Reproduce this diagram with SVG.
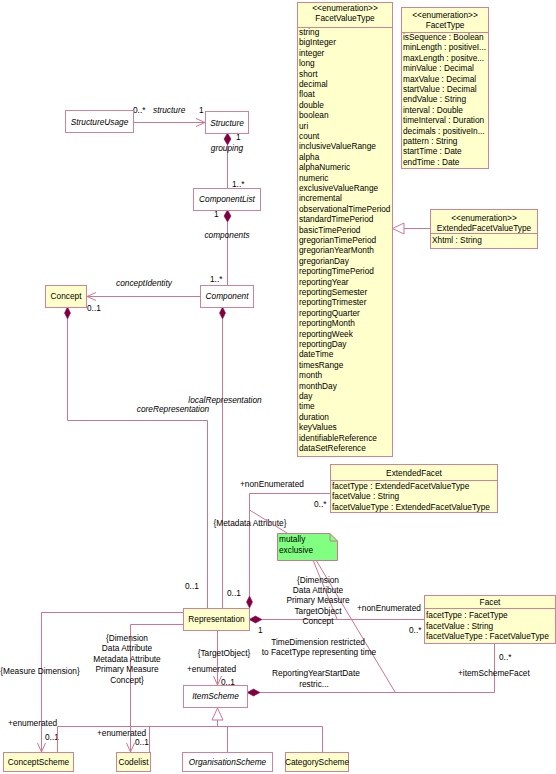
<svg xmlns="http://www.w3.org/2000/svg" width="556" height="774" viewBox="0 0 556 774">
<style>
text{font-family:"Liberation Sans",Arial,sans-serif;font-size:8.3px;fill:#000}
.i{font-style:italic}
.m{text-anchor:middle}
.box{stroke:#d08398;stroke-width:1}
.y{fill:#ffffcc}
.w{fill:#ffffff}
.ln{stroke:#cc7690;stroke-width:1;fill:none}
.dia{fill:#800040;stroke:#800040;stroke-width:0.5}
.tri{fill:#ffffff;stroke:#cc7690;stroke-width:1}
.note{fill:#80ff80;stroke:#cc7690;stroke-width:1}
</style>
<defs>
<marker id="open" markerUnits="userSpaceOnUse" markerWidth="12" markerHeight="12" refX="10" refY="5" orient="auto">
<path d="M1,1 L10,5 L1,9" fill="none" stroke="#cc7690" stroke-width="1"/>
</marker>
</defs>
<rect width="556" height="774" fill="#ffffff"/>

<g id="connectors">
<line class="ln" x1="133" y1="122.5" x2="205" y2="122.5" marker-end="url(#open)"/>
<text x="133" y="113">0..*</text>
<text class="i" x="153" y="113">structure</text>
<text x="199" y="113">1</text>
<polygon class="dia" points="227.5,133 231,139 227.5,145 224,139"/>
<line class="ln" x1="227.5" y1="145" x2="227.5" y2="188"/>
<text x="236" y="140">1</text>
<text class="i m" x="227" y="151">grouping</text>
<text x="232" y="187">1..*</text>
<polygon class="dia" points="227.5,210 231,216 227.5,222 224,216"/>
<line class="ln" x1="227.5" y1="222" x2="227.5" y2="285"/>
<text x="214" y="217">1</text>
<text class="i m" x="227" y="238">components</text>
<text x="210" y="282">1..*</text>
<line class="ln" x1="200" y1="296.5" x2="87" y2="296.5" marker-end="url(#open)"/>
<text class="i m" x="144" y="286">conceptIdentity</text>
<text x="87" y="311">0..1</text>
<polygon class="dia" points="67.5,307 70.5,313 67.5,319 64.5,313"/>
<polyline class="ln" points="67.5,319 67.5,420.5 207.5,420.5 207.5,608"/>
<text class="i m" x="173" y="411.5">coreRepresentation</text>
<polygon class="dia" points="222.5,307 225.5,313 222.5,319 219.5,313"/>
<line class="ln" x1="222.5" y1="319" x2="222.5" y2="608"/>
<text class="i m" x="225" y="403">localRepresentation</text>
<text x="185" y="589">0..1</text>
<polygon class="dia" points="249.5,596 252.5,602 249.5,608 246.5,602"/>
<polyline class="ln" points="249.5,596 249.5,493.5 330,493.5"/>
<text x="240" y="487">+nonEnumerated</text>
<text x="314" y="507">0..*</text>
<text class="m" x="250" y="526">{Metadata Attribute}</text>
<text x="227" y="596">0..1</text>
<line class="ln" x1="249.5" y1="510" x2="287" y2="533"/>
<line class="ln" x1="313" y1="560" x2="337" y2="619"/>
<line class="ln" x1="316" y1="560" x2="395" y2="692"/>
<polygon class="dia" points="249,619.5 255.5,616 262,619.5 255.5,623"/>
<line class="ln" x1="262" y1="619.5" x2="424" y2="619.5"/>
<text x="357" y="611">+nonEnumerated</text>
<text x="409" y="633">0..*</text>
<text x="258" y="633">1</text>
<text class="m" x="318" y="583">{Dimension</text>
<text class="m" x="318" y="593">Data Attribute</text>
<text class="m" x="318" y="603">Primary Measure</text>
<text class="m" x="318" y="614">TargetObject</text>
<text class="m" x="318" y="624">Concept</text>
<text class="m" x="318" y="645">TimeDimension restricted</text>
<text class="m" x="319" y="655">to FacetType representing time</text>
<text class="m" x="316" y="676">ReportingYearStartDate</text>
<text class="m" x="314" y="687">restric...</text>
<line class="ln" x1="217.5" y1="630" x2="217.5" y2="685" marker-end="url(#open)"/>
<text class="m" x="224" y="656">{TargetObject}</text>
<text x="187" y="672">+enumerated</text>
<text x="221" y="685">0..1</text>
<polygon class="dia" points="247,692.5 253.5,689 260,692.5 253.5,696"/>
<polyline class="ln" points="494.5,643 494.5,692.5 260,692.5"/>
<text x="499" y="660">0..*</text>
<text x="458" y="676">+itemSchemeFacet</text>
<polyline class="ln" points="183,612.5 41.5,612.5 41.5,752" marker-end="url(#open)"/>
<text class="m" x="40" y="674">{Measure Dimension}</text>
<text x="8" y="726">+enumerated</text>
<text x="45" y="740">0..1</text>
<polyline class="ln" points="183,624.5 130.5,624.5 130.5,752" marker-end="url(#open)"/>
<text class="m" x="127" y="641">{Dimension</text>
<text class="m" x="127" y="651.4">Data Attribute</text>
<text class="m" x="127" y="661.8">Metadata Attribute</text>
<text class="m" x="127" y="672.2">Primary Measure</text>
<text class="m" x="127" y="682.6">Concept}</text>
<text x="97" y="736">+enumerated</text>
<text x="135" y="745">0..1</text>
<polygon class="tri" points="217.5,708 212,720 223,720"/>
<line class="ln" x1="217.5" y1="720" x2="217.5" y2="726.5"/>
<line class="ln" x1="57.5" y1="726.5" x2="322.5" y2="726.5"/>
<line class="ln" x1="57.5" y1="726.5" x2="57.5" y2="752"/>
<line class="ln" x1="149.5" y1="726.5" x2="149.5" y2="752"/>
<line class="ln" x1="227.5" y1="726.5" x2="227.5" y2="752"/>
<line class="ln" x1="322.5" y1="726.5" x2="322.5" y2="752"/>
<line class="ln" x1="404" y1="228.5" x2="430" y2="228.5"/>
<polygon class="tri" points="392.5,228.5 404,223 404,234"/>
</g>

<g id="StructureUsage">
<rect class="box w" x="65.5" y="110.5" width="68" height="22"/>
<text class="i m" x="99.5" y="125">StructureUsage</text>
</g>
<g id="Structure">
<rect class="box w" x="205.5" y="111.5" width="43" height="22"/>
<text class="i m" x="227" y="125.5">Structure</text>
</g>
<g id="ComponentList">
<rect class="box w" x="193.5" y="188.5" width="67" height="22"/>
<text class="i m" x="227" y="202">ComponentList</text>
</g>
<g id="Component">
<rect class="box w" x="200.5" y="285.5" width="53" height="22"/>
<text class="i m" x="227" y="299">Component</text>
</g>
<g id="Concept">
<rect class="box y" x="45.5" y="285.5" width="41" height="22"/>
<text class="m" x="66" y="299">Concept</text>
</g>

<g id="FacetValueType">
<rect class="box y" x="297.5" y="2.5" width="95" height="454"/>
<text class="m" x="345" y="11">&lt;&lt;enumeration&gt;&gt;</text>
<text class="m" x="345" y="21">FacetValueType</text>
<line class="box" x1="297.5" y1="27.5" x2="392.5" y2="27.5"/>
<text x="299" y="35">string</text>
<text x="299" y="45.4">bigInteger</text>
<text x="299" y="55.8">integer</text>
<text x="299" y="66.2">long</text>
<text x="299" y="76.6">short</text>
<text x="299" y="87">decimal</text>
<text x="299" y="97.4">float</text>
<text x="299" y="107.8">double</text>
<text x="299" y="118.2">boolean</text>
<text x="299" y="128.6">uri</text>
<text x="299" y="139">count</text>
<text x="299" y="149.4">inclusiveValueRange</text>
<text x="299" y="159.8">alpha</text>
<text x="299" y="170.2">alphaNumeric</text>
<text x="299" y="180.6">numeric</text>
<text x="299" y="191">exclusiveValueRange</text>
<text x="299" y="201.4">incremental</text>
<text x="299" y="211.8">observationalTimePeriod</text>
<text x="299" y="222.2">standardTimePeriod</text>
<text x="299" y="232.6">basicTimePeriod</text>
<text x="299" y="243">gregorianTimePeriod</text>
<text x="299" y="253.4">gregorianYearMonth</text>
<text x="299" y="263.8">gregorianDay</text>
<text x="299" y="274.2">reportingTimePeriod</text>
<text x="299" y="284.6">reportingYear</text>
<text x="299" y="295">reportingSemester</text>
<text x="299" y="305.4">reportingTrimester</text>
<text x="299" y="315.8">reportingQuarter</text>
<text x="299" y="326.2">reportingMonth</text>
<text x="299" y="336.6">reportingWeek</text>
<text x="299" y="347">reportingDay</text>
<text x="299" y="357.4">dateTime</text>
<text x="299" y="367.8">timesRange</text>
<text x="299" y="378.2">month</text>
<text x="299" y="388.6">monthDay</text>
<text x="299" y="399">day</text>
<text x="299" y="409.4">time</text>
<text x="299" y="419.8">duration</text>
<text x="299" y="430.2">keyValues</text>
<text x="299" y="440.6">identifiableReference</text>
<text x="299" y="451">dataSetReference</text>
</g>

<g id="FacetType">
<rect class="box y" x="401.5" y="7.5" width="87" height="161"/>
<text class="m" x="445" y="18">&lt;&lt;enumeration&gt;&gt;</text>
<text class="m" x="445" y="28">FacetType</text>
<line class="box" x1="401.5" y1="32.5" x2="488.5" y2="32.5"/>
<text x="403" y="40">isSequence : Boolean</text>
<text x="403" y="50.4">minLength : positiveI...</text>
<text x="403" y="60.8">maxLength : positve...</text>
<text x="403" y="71.2">minValue : Decimal</text>
<text x="403" y="81.6">maxValue : Decimal</text>
<text x="403" y="92">startValue : Decimal</text>
<text x="403" y="102.4">endValue : String</text>
<text x="403" y="112.8">interval : Double</text>
<text x="403" y="123.2">timeInterval : Duration</text>
<text x="403" y="133.6">decimals : positiveIn...</text>
<text x="403" y="144">pattern : String</text>
<text x="403" y="154.4">startTime : Date</text>
<text x="403" y="164.8">endTime : Date</text>
</g>

<g id="ExtendedFacetValueType">
<rect class="box y" x="430.5" y="209.5" width="107" height="39"/>
<text class="m" x="484" y="220.5">&lt;&lt;enumeration&gt;&gt;</text>
<text class="m" x="484" y="231">ExtendedFacetValueType</text>
<line class="box" x1="430.5" y1="233.5" x2="537.5" y2="233.5"/>
<text x="432" y="242.5">Xhtml : String</text>
</g>

<g id="ExtendedFacet">
<rect class="box y" x="330.5" y="464.5" width="167" height="48"/>
<text class="m" x="414" y="476">ExtendedFacet</text>
<line class="box" x1="330.5" y1="480.5" x2="497.5" y2="480.5"/>
<text x="332" y="488.5">facetType : ExtendedFacetValueType</text>
<text x="332" y="499">facetValue : String</text>
<text x="332" y="509.5">facetValueType : ExtendedFacetValueType</text>
</g>

<g id="MutuallyExclusiveNote">
<path class="note" d="M277.5,533.5 H330 L337.5,541 V560.5 H277.5 Z"/>
<path d="M330,533.5 V541 H337.5" fill="none" stroke="#cc7690" stroke-width="1"/>
<text x="279" y="542">mutally</text>
<text x="279" y="552.5">exclusive</text>
</g>

<g id="Representation">
<rect class="box y" x="183.5" y="608.5" width="66" height="22"/>
<text class="m" x="216.5" y="622">Representation</text>
</g>

<g id="Facet">
<rect class="box y" x="424.5" y="595.5" width="131" height="48"/>
<text class="m" x="490" y="605">Facet</text>
<line class="box" x1="424.5" y1="608.5" x2="555.5" y2="608.5"/>
<text x="426" y="618">facetType : FacetType</text>
<text x="426" y="628.5">facetValue : String</text>
<text x="426" y="639">facetValueType : FacetValueType</text>
</g>

<g id="ItemScheme">
<rect class="box w" x="183.5" y="685.5" width="64" height="22"/>
<text class="i m" x="215.5" y="699">ItemScheme</text>
</g>

<g id="ConceptScheme">
<rect class="box y" x="3.5" y="752.5" width="70" height="19"/>
<text class="m" x="38.5" y="765">ConceptScheme</text>
</g>
<g id="Codelist">
<rect class="box y" x="116.5" y="752.5" width="34" height="19"/>
<text class="m" x="133.5" y="765">Codelist</text>
</g>
<g id="OrganisationScheme">
<rect class="box w" x="182.5" y="752.5" width="90" height="19"/>
<text class="i m" x="227.5" y="765">OrganisationScheme</text>
</g>
<g id="CategoryScheme">
<rect class="box y" x="285.5" y="752.5" width="63" height="19"/>
<text class="m" x="317" y="765">CategoryScheme</text>
</g>
</svg>
